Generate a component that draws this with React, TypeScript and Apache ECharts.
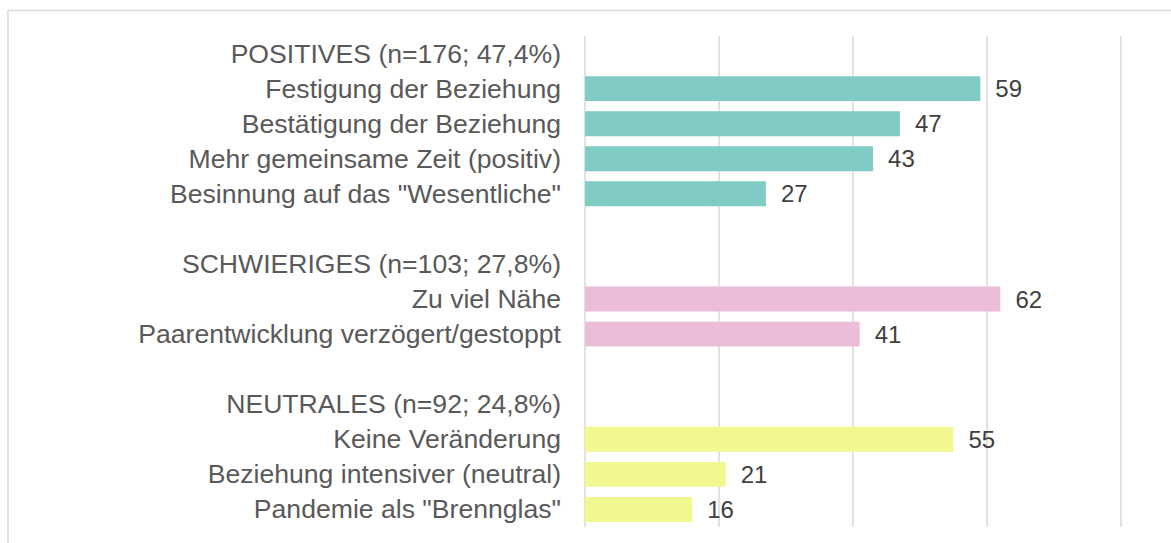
import React, { useEffect, useRef } from "react";
import * as echarts from "echarts";

const categories = [
  "POSITIVES (n=176; 47,4%)",
  "Festigung der Beziehung",
  "Bestätigung der Beziehung",
  "Mehr gemeinsame Zeit (positiv)",
  "Besinnung auf das \"Wesentliche\"",
  " ",
  "SCHWIERIGES (n=103; 27,8%)",
  "Zu viel Nähe",
  "Paarentwicklung verzögert/gestoppt",
  "  ",
  "NEUTRALES (n=92; 24,8%)",
  "Keine Veränderung",
  "Beziehung intensiver (neutral)",
  "Pandemie als \"Brennglas\"",
];

const values: (number | null)[] = [null, 59, 47, 43, 27, null, null, 62, 41, null, null, 55, 21, 16];

// group of each row: 0 positives, 1 schwieriges, 2 neutrales
const groups = [0, 0, 0, 0, 0, 0, 1, 1, 1, 1, 2, 2, 2, 2];
const groupColors = ["#80CBC4", "#EBBDD9", "#F3F78F"];

const axisMin = 0;
const axisMax = 80;
const axisInterval = 20;

export default function App() {
  const ref = useRef<HTMLDivElement>(null);
  useEffect(() => {
    if (!ref.current) return;
    const chart = echarts.init(ref.current, null, { renderer: "svg" });
    chart.setOption({
      animation: false,
      backgroundColor: "#ffffff",
      textStyle: { fontFamily: "Liberation Sans, Arial, sans-serif" },
      grid: { left: 585, right: 50, top: 36, bottom: 16, containLabel: false },
      graphic: [
        {
          type: "rect",
          shape: { x: 8, y: 10.5, width: 1300, height: 700 },
          style: { fill: "none", stroke: "#d9d9d9", lineWidth: 1.5 },
          silent: true,
        },
      ],
      xAxis: {
        type: "value",
        min: axisMin,
        max: axisMax,
        interval: axisInterval,
        axisLabel: { show: false },
        axisLine: { show: false },
        axisTick: { show: false },
        splitLine: { show: true, lineStyle: { color: "#d9d9d9", width: 1.5 } },
      },
      yAxis: {
        type: "category",
        inverse: true,
        data: categories,
        axisLine: { show: false },
        axisTick: { show: false },
        axisLabel: {
          interval: 0,
          hideOverlap: false,
          color: "#595959",
          fontSize: 26.6,
          margin: 24,
          fontFamily: "Liberation Sans, Arial, sans-serif",
        },
      },
      series: [
        {
          type: "bar",
          barCategoryGap: "29%",
          data: values.map((v, i) => ({
            value: v,
            itemStyle: { color: groupColors[groups[i]] },
          })),
          label: {
            show: true,
            position: "right",
            distance: 15,
            color: "#404040",
            fontSize: 24,
            fontFamily: "Liberation Sans, Arial, sans-serif",
            formatter: (p: any) => (p.value == null ? "" : String(p.value)),
          },
        },
      ],
    });
    return () => chart.dispose();
  }, []);
  return (
    <div
      ref={ref}
      style={{ position: "fixed", left: 0, top: 0, width: 1171, height: 543 }}
    />
  );
}
